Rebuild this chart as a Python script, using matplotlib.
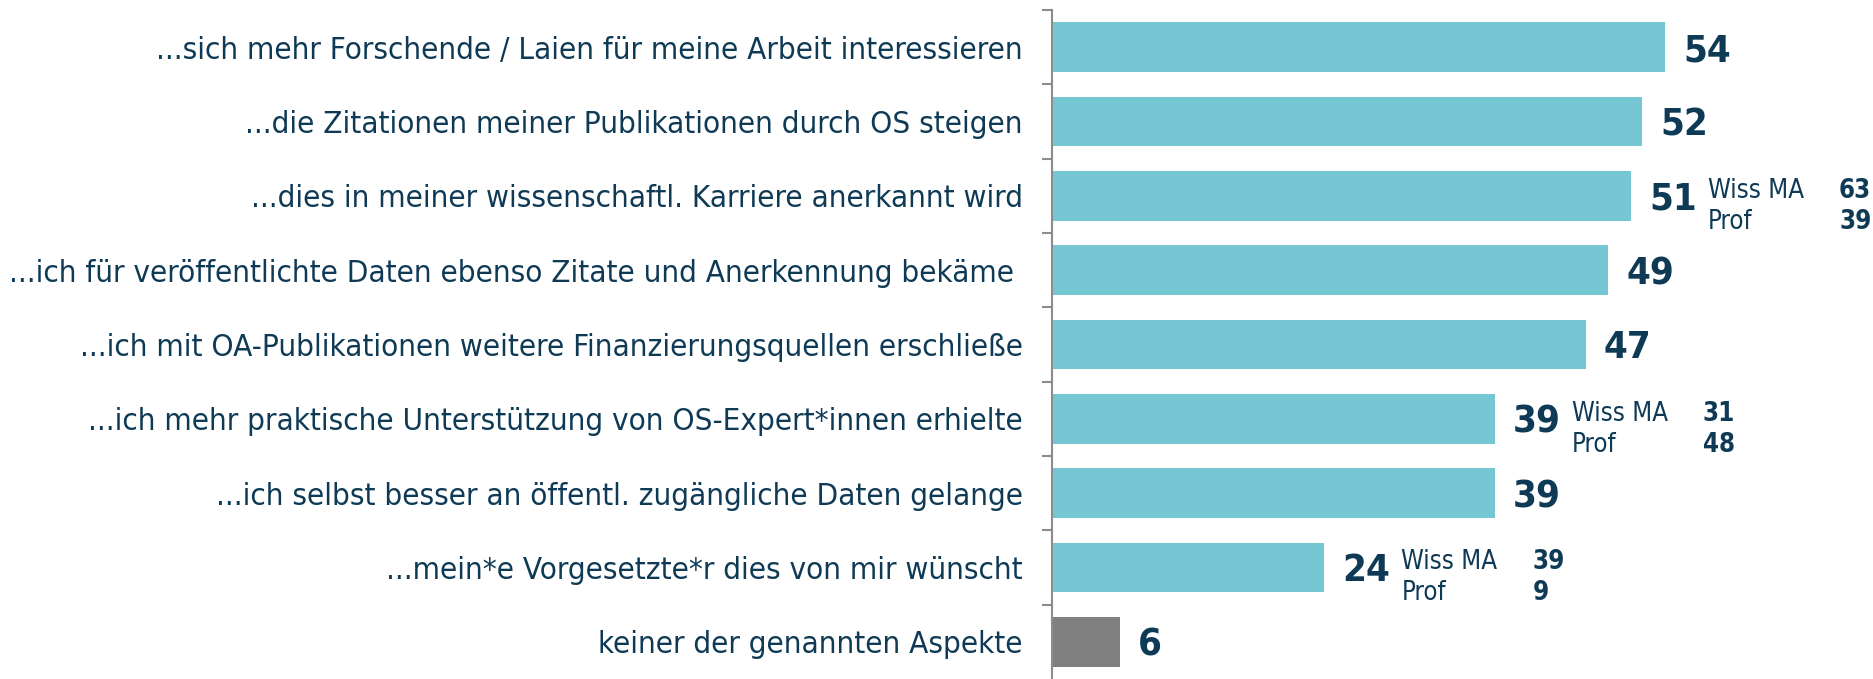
import matplotlib
matplotlib.use("Agg")
import matplotlib.pyplot as plt
import numpy as np

categories = [
    "...sich mehr Forschende / Laien für meine Arbeit interessieren",
    "...die Zitationen meiner Publikationen durch OS steigen",
    "...dies in meiner wissenschaftl. Karriere anerkannt wird",
    "...ich für veröffentlichte Daten ebenso Zitate und Anerkennung bekäme ",
    "...ich mit OA-Publikationen weitere Finanzierungsquellen erschließe",
    "...ich mehr praktische Unterstützung von OS-Expert*innen erhielte",
    "...ich selbst besser an öffentl. zugängliche Daten gelange",
    "...mein*e Vorgesetzte*r dies von mir wünscht",
    "keiner der genannten Aspekte",
]
values = [54, 52, 51, 49, 47, 39, 39, 24, 6]

# group breakdown shown next to some bars (index -> (Wiss MA, Prof))
breakdown_idx = [2, 5, 7]
wiss_ma = [63, 31, 39]
prof = [39, 48, 9]

TEXT = "#0f3a56"
BAR = "#76c7d4"
GREY_BAR = "#808080"
FONT = dict(family="DejaVu Sans", stretch="condensed")

fig = plt.figure(figsize=(18.74, 6.79), dpi=100)
ax = fig.add_axes([1052 / 1874, 0, 1 - 1052 / 1874, 1 - 10 / 679])

y = np.arange(len(categories))
colors = [BAR] * (len(values) - 1) + [GREY_BAR]
ax.barh(y, values, height=0.67, color=colors)

ax.set_xlim(0, 72.4)
ax.set_ylim(len(categories) - 0.5, -0.5)

for s in ["top", "right", "bottom"]:
    ax.spines[s].set_visible(False)
ax.spines["left"].set_color("#8c8c8c")
ax.spines["left"].set_linewidth(1.5)
ax.set_xticks([])

ax.set_yticks(y)
ax.set_yticklabels(categories, color=TEXT, fontsize=22.5, **FONT)
ax.tick_params(axis="y", which="major", length=0, pad=21)
ax.set_yticks(np.arange(-0.5, len(categories) - 0.5, 1), minor=True)
ax.tick_params(axis="y", which="minor", length=7.5, width=1.5, color="#8c8c8c")

for i, v in enumerate(values):
    ax.annotate(str(v), (v, i), xytext=(18, -14), textcoords="offset pixels",
                ha="left", va="baseline", color=TEXT, fontsize=27.5,
                fontweight="bold", **FONT)

for i, w, p in zip(breakdown_idx, wiss_ma, prof):
    v = values[i]
    ax.annotate("Wiss MA", (v, i), xytext=(77, -2), textcoords="offset pixels",
                ha="left", va="baseline", color=TEXT, fontsize=18.5, **FONT)
    ax.annotate("Prof", (v, i), xytext=(77, -33), textcoords="offset pixels",
                ha="left", va="baseline", color=TEXT, fontsize=18.5, **FONT)
    ax.annotate(str(w), (v, i), xytext=(208, -2), textcoords="offset pixels",
                ha="left", va="baseline", color=TEXT, fontsize=18.5,
                fontweight="bold", **FONT)
    ax.annotate(str(p), (v, i), xytext=(208, -33), textcoords="offset pixels",
                ha="left", va="baseline", color=TEXT, fontsize=18.5,
                fontweight="bold", **FONT)

fig.savefig("out.png", dpi=100)
